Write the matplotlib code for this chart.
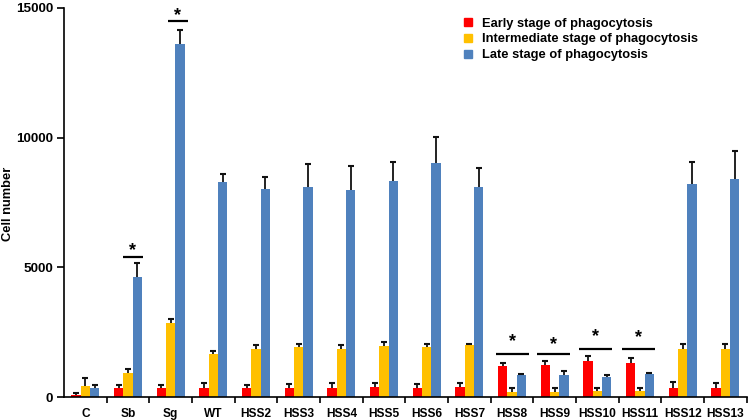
import matplotlib
matplotlib.use("Agg")
import matplotlib.pyplot as plt
import numpy as np
from matplotlib.lines import Line2D

plt.rcParams['font.family'] = ['Liberation Sans', 'DejaVu Sans']
plt.rcParams['font.weight'] = 'bold'

categories = ['C', 'Sb', 'Sg', 'WT', 'HSS2', 'HSS3', 'HSS4', 'HSS5', 'HSS6', 'HSS7',
              'HSS8', 'HSS9', 'HSS10', 'HSS11', 'HSS12', 'HSS13']
early = [70, 330, 330, 360, 330, 350, 350, 370, 350, 370, 1190, 1250, 1390, 1320, 330, 330]
early_err = [75, 130, 130, 170, 150, 140, 180, 160, 140, 160, 110, 140, 190, 190, 250, 200]
intermediate = [420, 940, 2860, 1670, 1850, 1925, 1850, 1960, 1925, 1990, 200, 200, 240, 240, 1850, 1850]
intermediate_err = [310, 130, 130, 110, 170, 105, 150, 180, 125, 60, 130, 160, 110, 110, 180, 180]
late = [350, 4610, 13620, 8290, 8020, 8100, 7970, 8340, 9010, 8100, 830, 830, 770, 890, 8210, 8400]
late_err = [110, 540, 540, 310, 460, 900, 920, 710, 1010, 730, 50, 180, 90, 45, 840, 1100]
series_labels = ['Early stage of phagocytosis', 'Intermediate stage of phagocytosis',
                 'Late stage of phagocytosis']
colors = ['#FF0000', '#FFC000', '#4F81BD']

# significance markers: group label, line level, star level
sig_groups = ['Sb', 'Sg', 'HSS8', 'HSS9', 'HSS10', 'HSS11']
sig_levels = [5400, 14480, 1658, 1658, 1840, 1840]
star_levels = [5640, 14720, 2150, 2020, 2320, 2280]
sig_half = [0.235, 0.235, 0.39, 0.39, 0.39, 0.39]
sig_shift = [0.11, 0.17, 0.01, -0.02, -0.05, -0.04]

fig = plt.figure(figsize=(7.5, 4.2), dpi=100)
ax = fig.add_axes([64/750, 1-397/420, (746.7-64)/750, (397-8)/420])

x = np.arange(len(categories))
w = 0.22
for i, (vals, errs) in enumerate([(early, early_err), (intermediate, intermediate_err), (late, late_err)]):
    xs = x + (i-1)*w
    vals = np.array(vals)
    errs = np.array(errs)
    ax.bar(xs, vals, width=w, color=colors[i], zorder=2)
    ax.errorbar(xs, vals, yerr=[np.zeros(len(vals)), errs], fmt='none',
                ecolor='#111111', elinewidth=1.3, capsize=0, zorder=3)
    ax.plot(xs, vals + errs, linestyle='none', marker='_', markersize=4,
            markeredgewidth=1.5, color='#111111', zorder=3)

for g, lvl, sl, hw, sh in zip(sig_groups, sig_levels, star_levels, sig_half, sig_shift):
    c = categories.index(g) + sh
    ax.plot([c-hw, c+hw], [lvl, lvl], color='black', lw=1.6, solid_capstyle='butt', zorder=4)
    ax.text(c, sl, '*', ha='center', va='center', fontsize=13, fontweight='bold')

ax.set_xlim(-0.5, len(categories)-0.5)
ax.set_ylim(0, 15000)
ax.set_yticks([0, 5000, 10000, 15000])
ax.set_yticklabels(['0', '5000', '10000', '15000'], fontsize=9.7, fontweight='bold')
ax.set_xticks(x)
ax.set_xticklabels(categories, fontsize=8.6, fontweight='bold')
ax.set_xticks(np.arange(len(categories)) + 0.5, minor=True)
ax.tick_params(axis='x', which='major', length=0, pad=8)
ax.tick_params(axis='x', which='minor', length=4, width=1.2, direction='out')
ax.tick_params(axis='y', length=5, width=1.2, direction='out', pad=3)
for s in ['top', 'right']:
    ax.spines[s].set_visible(False)
for s in ['left', 'bottom']:
    ax.spines[s].set_linewidth(1.2)
ax.spines['bottom'].set_zorder(5)

fig.text(8/750, 1-204/420, 'Cell number', rotation=90, ha='center', va='center',
         fontsize=9.3, fontweight='bold')

handles = [Line2D([], [], marker='s', linestyle='none', markersize=5.5,
                  markerfacecolor=c, markeredgecolor=c) for c in colors]
leg = fig.legend(handles, series_labels, loc='upper left', bbox_to_anchor=(463.5/750, 1-17.5/420),
                 frameon=False, fontsize=9.3, handlelength=0.7, handletextpad=0.73,
                 labelspacing=0.3, borderpad=0, borderaxespad=0)
for t in leg.get_texts():
    t.set_fontweight('bold')

fig.savefig('out.png', dpi=100)
